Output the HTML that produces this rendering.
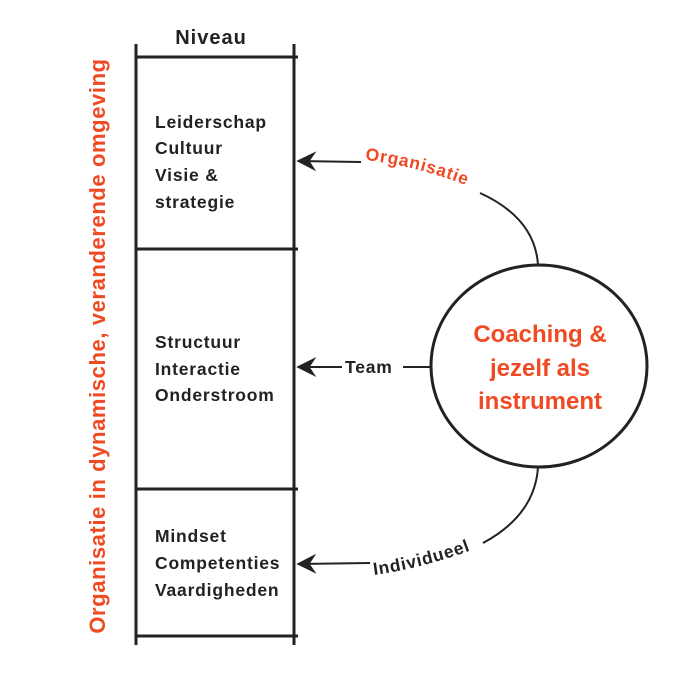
<!DOCTYPE html>
<html><head><style>body{margin:0;background:#fff}svg{display:block}</style></head>
<body>
<svg width="700" height="700" viewBox="0 0 700 700" xmlns="http://www.w3.org/2000/svg" font-family="'Liberation Sans', sans-serif" font-weight="bold">
<defs>
<marker id="ah" viewBox="0 0 12 12" refX="11" refY="6" markerWidth="20" markerHeight="20" markerUnits="userSpaceOnUse" orient="auto">
<path d="M0,0 L12,6 L0,12 L4,6 Z" fill="#222"/></marker>
<path id="orgp" d="M365,160 Q420,166 478,190"/>
<path id="indp" d="M374,575 Q425,568 480,547"/>
</defs>
<g stroke="#222" stroke-width="3" fill="none">
<line x1="136" y1="44" x2="136" y2="645"/>
<line x1="294" y1="44" x2="294" y2="645"/>
<line x1="136" y1="57" x2="298" y2="57"/>
<line x1="136" y1="249" x2="298" y2="249"/>
<line x1="136" y1="489" x2="298" y2="489"/>
<line x1="136" y1="636" x2="298" y2="636"/>
<ellipse cx="539" cy="366" rx="108" ry="101"/>
</g>
<g stroke="#222" stroke-width="2" fill="none">
<path d="M361,162 L298,161" marker-end="url(#ah)"/>
<path d="M480,193 Q535,218 538,265"/>
<path d="M342,367 L298,367" marker-end="url(#ah)"/>
<path d="M403,367 L430,367"/>
<path d="M370,563 L298,564" marker-end="url(#ah)"/>
<path d="M483,543 Q535,515 538,467"/>
</g>
<text x="211" y="44" font-size="20" letter-spacing="1" text-anchor="middle" fill="#222">Niveau</text>
<g font-size="17.5" letter-spacing="0.8" fill="#222">
<text x="155" y="128">Leiderschap</text>
<text x="155" y="154">Cultuur</text>
<text x="155" y="181">Visie &amp;</text>
<text x="155" y="208">strategie</text>
<text x="155" y="348">Structuur</text>
<text x="155" y="375">Interactie</text>
<text x="155" y="401">Onderstroom</text>
<text x="155" y="542">Mindset</text>
<text x="155" y="569">Competenties</text>
<text x="155" y="596">Vaardigheden</text>
<text x="345" y="373">Team</text>
<text><textPath href="#indp">Individueel</textPath></text>
</g>
<text font-size="17.5" letter-spacing="0.8" fill="#f04a24"><textPath href="#orgp">Organisatie</textPath></text>
<g font-size="24" fill="#f04a24" text-anchor="middle">
<text x="540" y="342">Coaching &amp;</text>
<text x="540" y="376">jezelf als</text>
<text x="540" y="409">instrument</text>
</g>
<text transform="translate(105,346) rotate(-90)" font-size="22" letter-spacing="0.6" fill="#f04a24" text-anchor="middle">Organisatie in dynamische, veranderende omgeving</text>
</svg>
</body></html>
